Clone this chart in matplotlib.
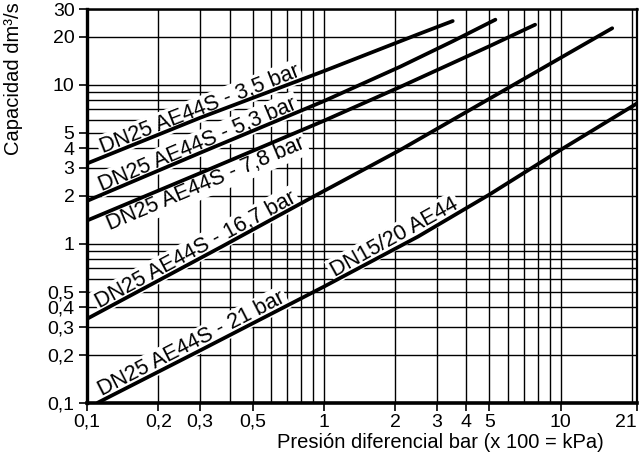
import numpy as np
import matplotlib
matplotlib.use("Agg")
import matplotlib.pyplot as plt
from matplotlib.ticker import FixedLocator, FixedFormatter, NullFormatter

plt.rcParams['font.family'] = ['Liberation Sans', 'DejaVu Sans']

# ---- data ----
c35_x = [0.1, 0.3, 1.0, 2.5, 3.5]
c35_y = [3.2, 6.2, 12.2, 20.8, 25.2]
c53_x = [0.1, 0.3, 1.0, 2.1, 3.5, 5.3]
c53_y = [1.86, 3.73, 7.9, 13.0, 18.8, 25.7]
c78_x = [0.1, 0.3, 1.0, 2.1, 5.0, 7.8]
c78_y = [1.40, 2.78, 5.94, 9.7, 17.5, 23.9]
c167_x = [0.1, 0.37, 0.87, 2.1, 10.0, 16.5]
c167_y = [0.337, 0.958, 1.92, 3.89, 14.8, 22.7]
c21_x = [0.111, 0.3, 1.0, 2.5, 5.0, 10.0, 21.0]
c21_y = [0.1, 0.213, 0.537, 1.11, 2.04, 3.9, 7.64]

x_ticks = [0.1, 0.2, 0.3, 0.5, 1, 2, 3, 4, 5, 10, 21]
x_tick_labels = ["0,1", "0,2", "0,3", "0,5", "1", "2", "3", "4", "5", "10", "21"]
y_ticks = [0.1, 0.2, 0.3, 0.4, 0.5, 1, 2, 3, 4, 5, 10, 20, 30]
y_tick_labels = ["0,1", "0,2", "0,3", "0,4", "0,5", "1", "2", "3", "4", "5", "10", "20", "30"]

x_grid = [0.1, 0.2, 0.3, 0.4, 0.5, 0.6, 0.7, 0.8, 0.9, 1, 2, 3, 4, 5, 6, 7, 8, 9, 10, 20]
y_grid = [0.1, 0.2, 0.3, 0.4, 0.5, 0.6, 0.7, 0.8, 0.9, 1, 2, 3, 4, 5, 6, 7, 8, 9, 10, 20, 30]

# (text, start x, x used for slope, curve x, curve y, side: +1 above / -1 below)
labels = [
    ("DN25 AE44S - 3,5 bar", 0.118, 0.75, c35_x, c35_y, 1),
    ("DN25 AE44S - 5,3 bar", 0.117, 0.75, c53_x, c53_y, 1),
    ("DN25 AE44S - 7,8 bar", 0.117, 0.75, c78_x, c78_y, -1),
    ("DN25 AE44S - 16,7 bar", 0.115, 0.75, c167_x, c167_y, 1),
    ("DN25 AE44S - 21 bar", 0.118, 0.75, c21_x, c21_y, 1),
    ("DN15/20 AE44", 1.13, 4.5, c21_x, c21_y, 1),
]

fig = plt.figure(figsize=(6.39, 4.61), dpi=100)
ax = fig.add_axes([87/639, (461-402.7)/461, 550/639, (402.7-9)/461])
ax.set_xscale('log')
ax.set_yscale('log')
ax.set_xlim(0.1, 21)
ax.set_ylim(0.1, 30)

for g in x_grid:
    ax.axvline(g, color='black', lw=1.0, zorder=1)
for g in y_grid:
    ax.axhline(g, color='black', lw=1.0, zorder=1)

for xs, ys in [(c35_x, c35_y), (c53_x, c53_y), (c78_x, c78_y), (c167_x, c167_y), (c21_x, c21_y)]:
    ax.plot(xs, ys, color='black', lw=2.7, solid_capstyle='round', zorder=4)

ax.xaxis.set_major_locator(FixedLocator(x_ticks))
ax.xaxis.set_major_formatter(FixedFormatter(x_tick_labels))
ax.xaxis.set_minor_locator(FixedLocator([]))
ax.xaxis.set_minor_formatter(NullFormatter())
ax.yaxis.set_major_locator(FixedLocator(y_ticks))
ax.yaxis.set_major_formatter(FixedFormatter(y_tick_labels))
ax.yaxis.set_minor_locator(FixedLocator([]))
ax.yaxis.set_minor_formatter(NullFormatter())
ax.tick_params(axis='both', direction='out', length=6, width=1.2, labelsize=14, color='black')
ax.tick_params(axis='x', pad=2)
ax.tick_params(axis='y', pad=3)

ax.spines['left'].set_linewidth(2.4)
ax.spines['bottom'].set_linewidth(2.6)
ax.spines['top'].set_linewidth(1.8)
ax.spines['right'].set_linewidth(1.6)
for s in ax.spines.values():
    s.set_zorder(5)

ax.set_xlabel("Presión diferencial bar (x 100 = kPa)", fontsize=14.5, ha='right', va='center')
ax.xaxis.set_label_coords((604-87)/550, (402.7-442)/393.7)
ax.set_ylabel("Capacidad dm³/s", fontsize=14.5, ha='right', va='center')
ax.yaxis.set_label_coords((14-87)/550, (402.7-2)/393.7)

fig.canvas.draw()
xt = ax.get_xticklabels()
xt[-1].set_horizontalalignment('right')
xt[-1].set_x(21)


def curve_y(x, xs, ys):
    return 10 ** np.interp(np.log10(x), np.log10(xs), np.log10(ys))


for text, x0, x1, xs, ys, side in labels:
    y0 = curve_y(x0, xs, ys)
    y1 = curve_y(x1, xs, ys)
    p0 = ax.transData.transform((x0, y0))
    p1 = ax.transData.transform((x1, y1))
    ang = np.degrees(np.arctan2(p1[1] - p0[1], p1[0] - p0[0]))
    d = 2.6 if side > 0 else -1.6
    ox = -np.sin(np.radians(ang)) * d
    oy = np.cos(np.radians(ang)) * d
    ax.annotate(text, xy=(x0, y0), xytext=(ox, oy), textcoords='offset points',
                rotation=ang, rotation_mode='anchor', ha='left',
                va='baseline' if side > 0 else 'top',
                fontsize=15.5, zorder=3,
                bbox=dict(facecolor='white', edgecolor='none', pad=1.5))

fig.savefig("out.png", dpi=100)
